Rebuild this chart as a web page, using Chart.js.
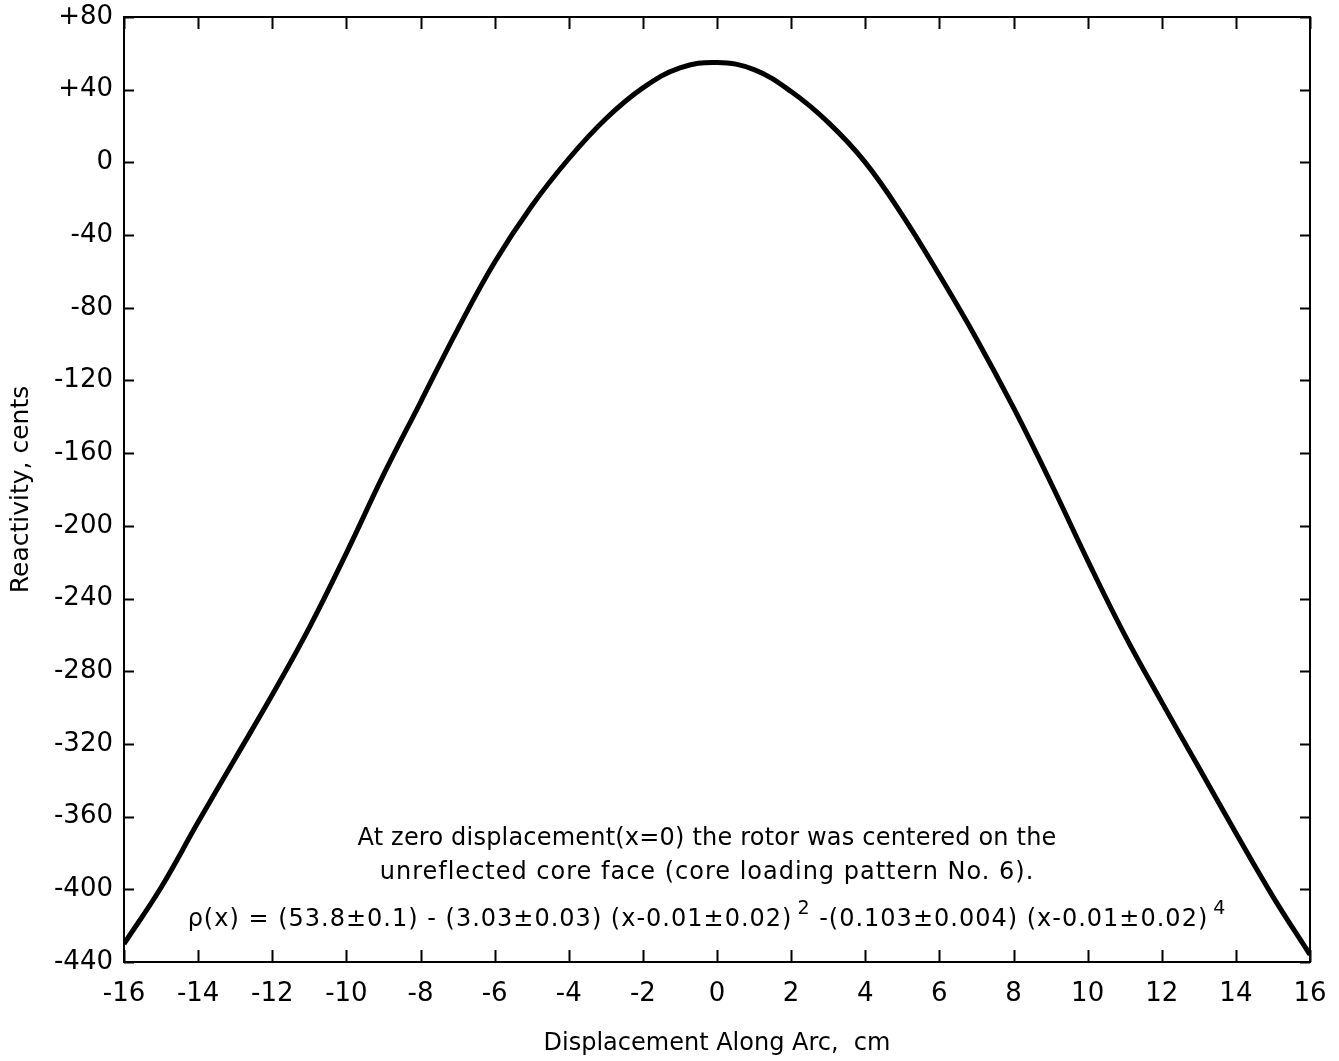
<!DOCTYPE html>
<html>
<head>
<meta charset="utf-8">
<script src="https://cdn.jsdelivr.net/npm/chart.js@4.4.1/dist/chart.umd.min.js"></script>
<style>
  html, body { margin: 0; padding: 0; background: #fff; }
  #wrap { width: 1339px; height: 1061px; position: relative; }
</style>
</head>
<body>
<div id="wrap"><canvas id="reactivityChart"></canvas></div>
<script>
// Reactivity vs displacement along arc

const displacement = [-16, -15, -14, -13, -12, -11, -10, -9, -8, -7, -6, -5, -4, -3, -2, -1, 0,
                      1, 2, 3, 4, 5, 6, 7, 8, 9, 10, 11, 12, 13, 14, 15, 16];
const reactivity = [-430, -399, -363, -328, -293, -256, -215, -172, -132, -92, -55, -24, 2, 24, 41, 52, 55,
                    51, 39, 22, 0, -29, -62, -97, -135, -176, -219, -260, -297, -333, -369, -404, -436];

const yTickValues = [80, 40, 0, -40, -80, -120, -160, -200, -240, -280, -320, -360, -400, -440];
const yTickLabels = ['+80', '+40', '0', '-40', '-80', '-120', '-160', '-200', '-240', '-280', '-320', '-360', '-400', '-440'];

const noteLines = [
    'At zero displacement(x=0) the rotor was centered on the',
    'unreflected core face (core loading pattern No. 6).'
];
const formulaParts = [
    ['ρ(x) = (53.8±0.1) - (3.03±0.03) (x-0.01±0.02)', false],
    ['2', true],
    [' -(0.103±0.004) (x-0.01±0.02)', false],
    ['4', true]
];

const FONT = '"DejaVu Sans", sans-serif';

// box frame, inward ticks on all four sides, and the note text
const framePlugin = {
    id: 'frame',
    afterDraw(chart) {
        const ctx = chart.ctx;
        const a = chart.chartArea;
        const xs = chart.scales.x;
        const ys = chart.scales.y;
        ctx.save();
        ctx.strokeStyle = '#000';
        ctx.lineWidth = 2;
        ctx.strokeRect(a.left, a.top, a.right - a.left, a.bottom - a.top);

        ctx.beginPath();
        xs.ticks.forEach(t => {
            const px = Math.round(xs.getPixelForValue(t.value)) + 0.5;
            ctx.moveTo(px, a.bottom); ctx.lineTo(px, a.bottom - 12);
            ctx.moveTo(px, a.top); ctx.lineTo(px, a.top + 12);
        });
        ys.ticks.forEach(t => {
            const py = Math.round(ys.getPixelForValue(t.value)) + 0.5;
            ctx.moveTo(a.left, py); ctx.lineTo(a.left + 10, py);
            ctx.moveTo(a.right, py); ctx.lineTo(a.right - 10, py);
        });
        ctx.stroke();

        // note
        const cx = 707;
        ctx.fillStyle = '#000';
        ctx.textBaseline = 'alphabetic';
        ctx.textAlign = 'center';
        ctx.font = '24px ' + FONT;
        ctx.letterSpacing = '0.2px';
        ctx.fillText(noteLines[0], cx, 845);
        ctx.letterSpacing = '1px';
        ctx.fillText(noteLines[1], cx, 879);

        // formula with superscripts
        ctx.textAlign = 'left';
        const mainFont = '24px ' + FONT;
        const supFont = '19px ' + FONT;
        const gap = 5;
        let total = 0;
        formulaParts.forEach(p => {
            ctx.font = p[1] ? supFont : mainFont;
            total += ctx.measureText(p[0]).width + (p[1] ? gap : 0);
        });
        let x0 = cx - total / 2;
        formulaParts.forEach(p => {
            ctx.font = p[1] ? supFont : mainFont;
            if (p[1]) x0 += gap;
            ctx.fillText(p[0], x0, p[1] ? 914 : 926);
            x0 += ctx.measureText(p[0]).width;
        });
        ctx.restore();
    }
};

const ctx = document.getElementById('reactivityChart');

new Chart(ctx, {
    type: 'line',
    data: {
        datasets: [{
            data: displacement.map((d, i) => ({ x: d, y: reactivity[i] })),
            borderColor: '#000',
            borderWidth: 5,
            pointRadius: 0,
            fill: false,
            tension: 0.4
        }]
    },
    options: {
        responsive: true,
        maintainAspectRatio: false,
        animation: false,
        layout: { padding: { top: 17, right: 29 } },
        plugins: {
            legend: { display: false },
            tooltip: { enabled: false }
        },
        scales: {
            x: {
                type: 'linear',
                min: -16,
                max: 16,
                border: { display: false },
                grid: { display: false, drawTicks: false },
                ticks: {
                    stepSize: 2,
                    color: '#000',
                    padding: 11,
                    maxRotation: 0,
                    font: { family: FONT, size: 26, lineHeight: 1.6 }
                },
                title: {
                    display: true,
                    text: 'Displacement Along Arc,  cm',
                    color: '#000',
                    font: { family: FONT, size: 24 },
                    padding: { top: 0, bottom: 3 }
                },
                afterFit: s => { s.height = 99; }
            },
            y: {
                min: -440,
                max: 80,
                border: { display: false },
                grid: { display: false, drawTicks: false },
                ticks: {
                    stepSize: 40,
                    color: '#000',
                    padding: 11,
                    font: { family: FONT, size: 26, lineHeight: 0.4 },
                    callback: v => {
                        const i = yTickValues.indexOf(v);
                        return i >= 0 ? yTickLabels[i] : '';
                    }
                },
                title: {
                    display: true,
                    text: 'Reactivity, cents',
                    color: '#000',
                    font: { family: FONT, size: 25 },
                    padding: { top: 6, bottom: 0 }
                },
                afterFit: s => { s.width = 124; }
            }
        }
    },
    plugins: [framePlugin]
});
</script>
</body>
</html>
